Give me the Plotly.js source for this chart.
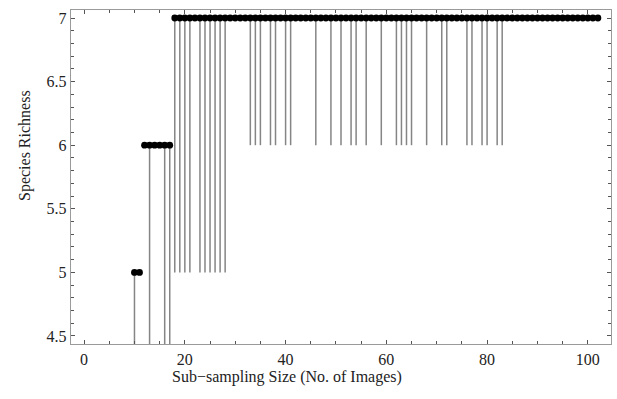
<!DOCTYPE html>
<html>
<head>
<meta charset="utf-8">
<script src="https://cdn.plot.ly/plotly-3.0.1.min.js"></script>
<style>html,body{margin:0;padding:0;background:#fff;}#chart{width:617px;height:399px;}</style>
</head>
<body>
<div id="chart"></div>
<script>
// Sub-sampling sizes shown (No. of Images)
const sizes = [];
for (let s = 10; s <= 102; s++) sizes.push(s);

// Species richness at each sub-sampling size
const richness5 = [10, 11];
const richness6 = [12, 13, 14, 15, 16, 17];
// everything from 18 to 102 has richness 7

// Sizes whose range line drops to richness 5
const dropTo5 = [18, 19, 20, 21, 23, 24, 25, 26, 27, 28];
// Sizes whose range line drops to richness 6
const dropTo6 = [33, 34, 35, 37, 38, 40, 41, 46, 49, 51, 53, 54, 56, 59, 62, 63, 64, 65, 68, 71, 72, 76, 77, 79, 80, 82, 83];
// Sizes whose range line runs below the plotted range (estimated minimum 4)
const dropBelow = [10, 13, 16, 17];
const belowValue = 4;

const xTickVals = [0, 20, 40, 60, 80, 100];
const yTickVals = [4.5, 5, 5.5, 6, 6.5, 7];
const yTickText = ['4.5', '5', '5.5', '6', '6.5', '7'];

const richness = sizes.map(s => richness5.includes(s) ? 5 : (richness6.includes(s) ? 6 : 7));
const minimum = sizes.map((s, i) => {
  if (dropBelow.includes(s)) return belowValue;
  if (dropTo5.includes(s)) return 5;
  if (dropTo6.includes(s)) return 6;
  return richness[i];
});
const minus = richness.map((r, i) => r - minimum[i]);

const font = {family: 'Liberation Serif, Times New Roman, serif', size: 16, color: '#222'};
const frame = '#9a9a9a';

const trace = {
  x: sizes, y: richness, type: 'scatter', mode: 'markers',
  marker: {color: '#000', size: 6.8},
  error_y: {type: 'data', symmetric: false, array: sizes.map(() => 0), arrayminus: minus,
            color: '#858585', thickness: 1.5, width: 0},
  cliponaxis: true, hoverinfo: 'x+y'
};

const layout = {
  width: 617, height: 399,
  margin: {l: 71, r: 6, t: 10, b: 55},
  paper_bgcolor: '#fff', plot_bgcolor: '#fff',
  showlegend: false,
  font: font,
  xaxis: {
    range: [-2.6, 104.6], showgrid: false, zeroline: false,
    showline: true, linecolor: frame, linewidth: 1.3, mirror: 'allticks',
    ticks: 'inside', ticklen: 4, tickcolor: '#555', tickwidth: 1,
    tickvals: xTickVals, tickfont: font,
    minor: {dtick: 5, tick0: 0, ticks: 'inside', ticklen: 3, tickcolor: '#555', tickwidth: 1, showgrid: false}
  },
  yaxis: {
    range: [4.437, 7.063], showgrid: false, zeroline: false,
    showline: true, linecolor: frame, linewidth: 1.3, mirror: 'allticks',
    ticks: 'inside', ticklen: 4, tickcolor: '#555', tickwidth: 1,
    tickvals: yTickVals, ticktext: yTickText, tickfont: font,
    minor: {dtick: 0.1, tick0: 4.5, ticks: 'inside', ticklen: 3, tickcolor: '#555', tickwidth: 1, showgrid: false}
  },
  annotations: [
    {text: 'Sub\u2212sampling Size (No. of Images)', xref: 'paper', yref: 'paper',
     x: (287 - 71) / 540, y: (399 - 377 - 55) / 334, xanchor: 'center', yanchor: 'middle',
     showarrow: false, font: font},
    {text: 'Species Richness', xref: 'paper', yref: 'paper', textangle: -90,
     x: (25 - 71) / 540, y: (344 - 146) / 334, xanchor: 'center', yanchor: 'middle',
     showarrow: false, font: font}
  ]
};

Plotly.newPlot('chart', [trace], layout, {displayModeBar: false, staticPlot: true});
</script>
</body>
</html>
